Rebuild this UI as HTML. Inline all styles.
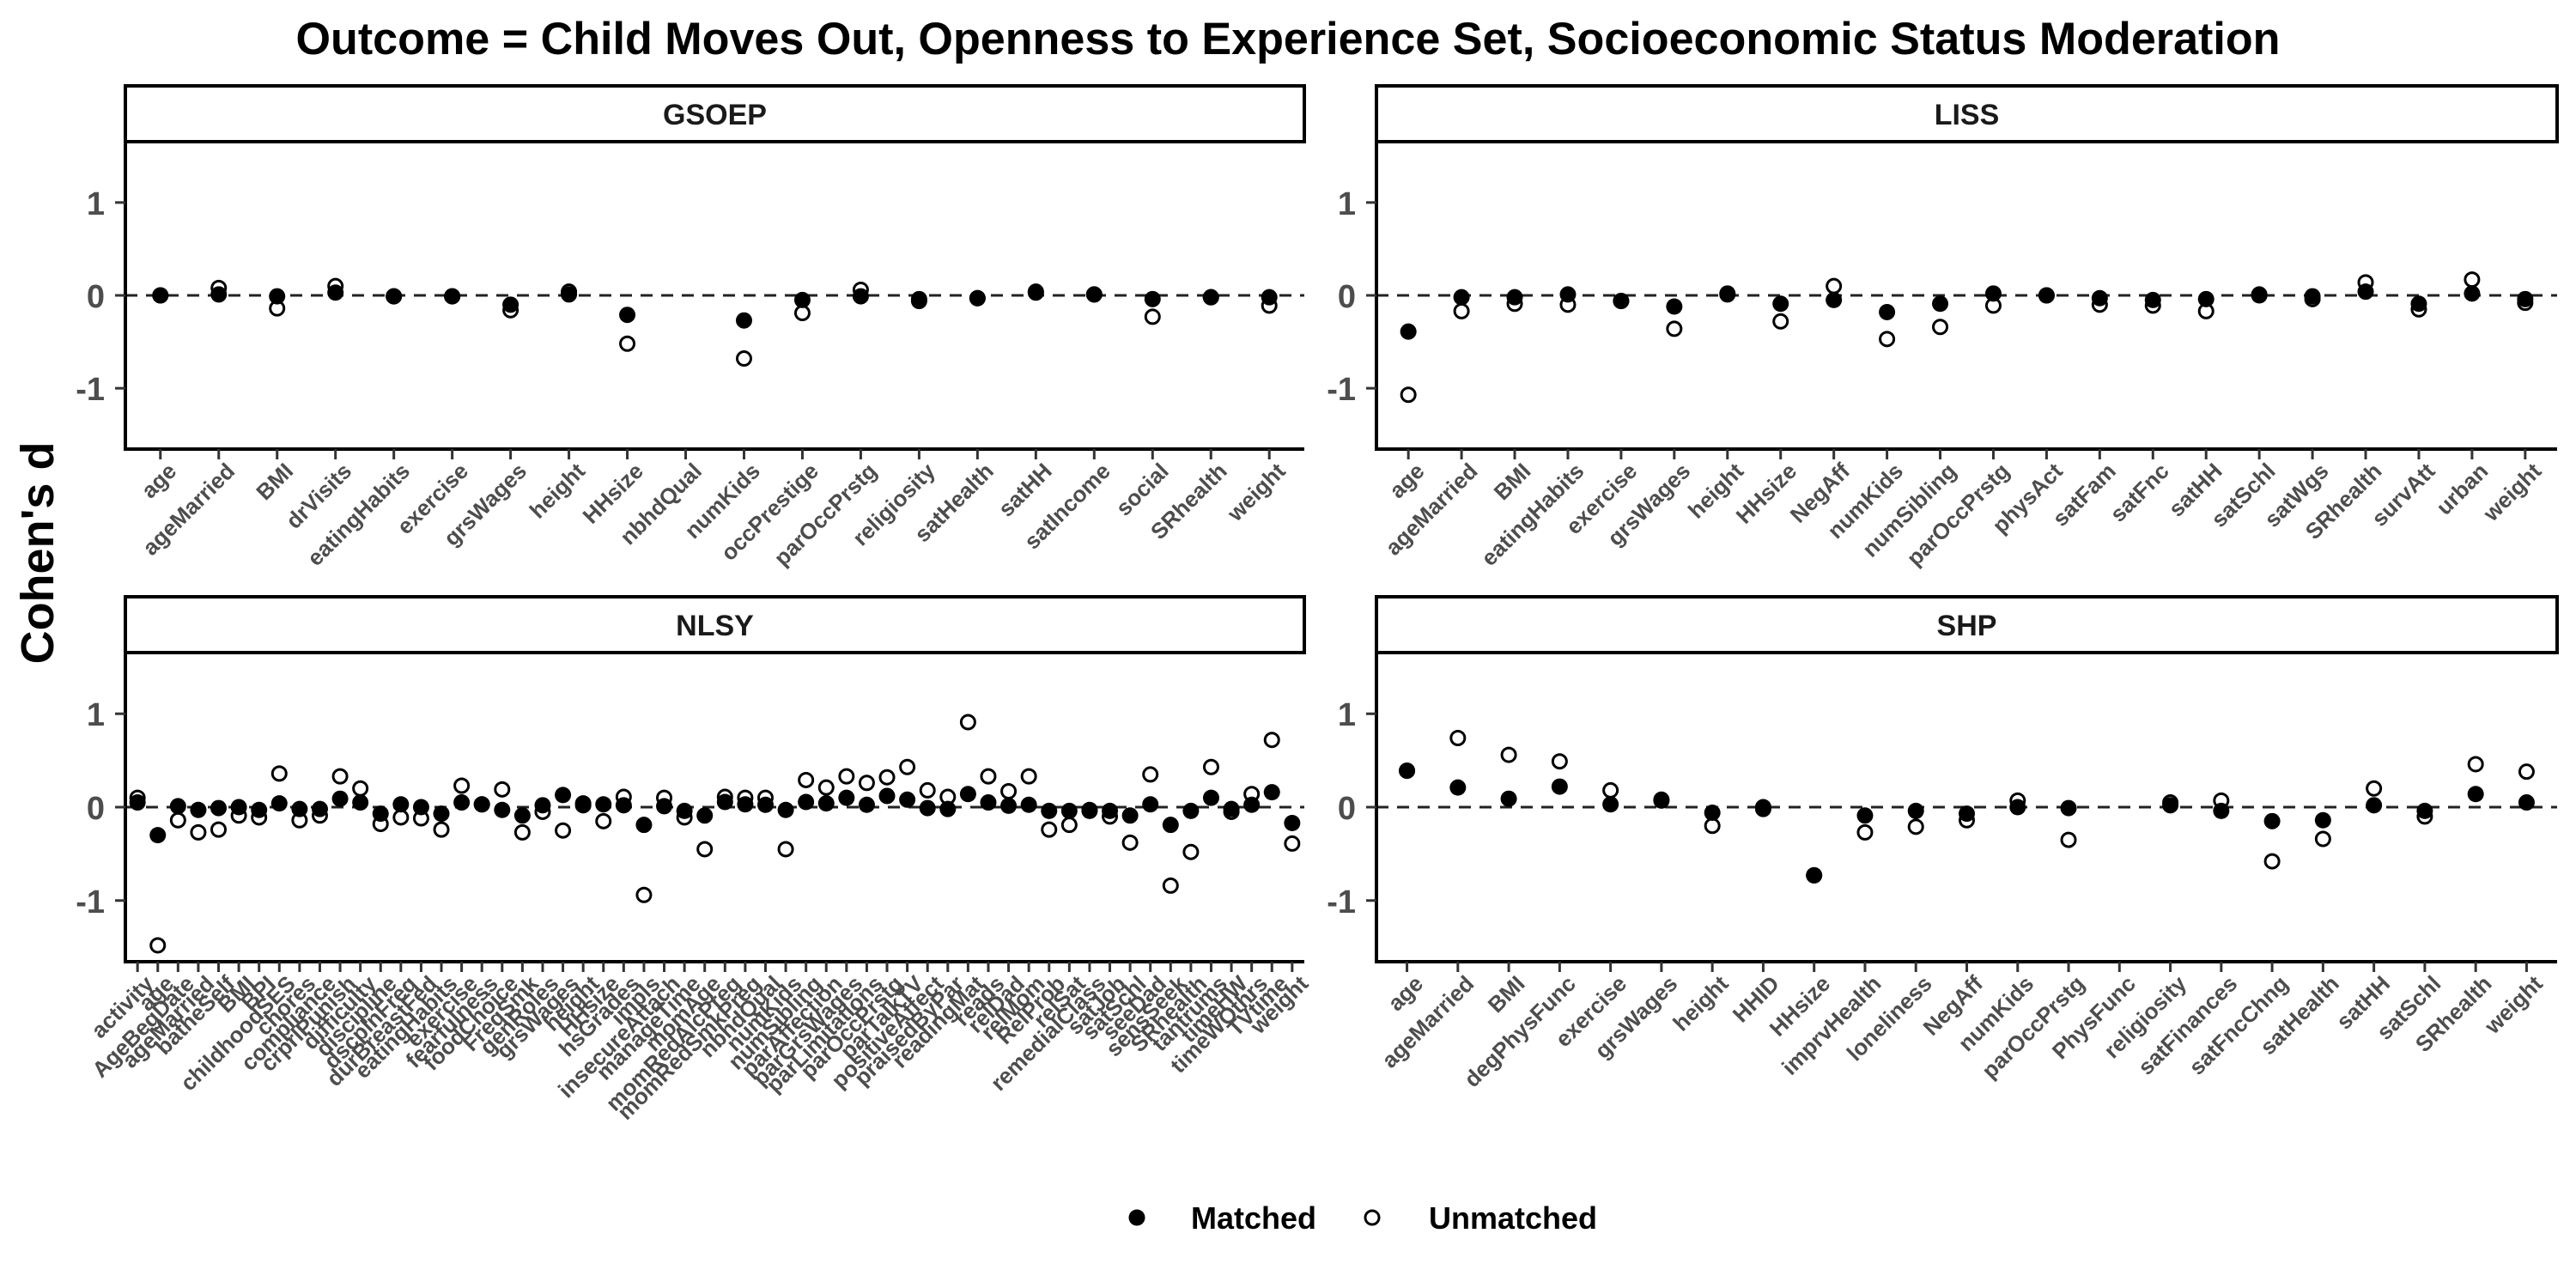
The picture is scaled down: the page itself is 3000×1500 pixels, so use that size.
<!DOCTYPE html>
<html><head><meta charset="utf-8"><style>
html,body{margin:0;padding:0;background:#fff;}
svg{display:block;font-family:"Liberation Sans",Arial,sans-serif;}
</style></head><body>
<svg id="chart" xmlns="http://www.w3.org/2000/svg" width="3000" height="1500" viewBox="0 0 3000 1500">
<rect x="0" y="0" width="3000" height="1500" fill="#fff"/>
<text x="1500" y="63" text-anchor="middle" font-size="53" font-weight="bold" fill="#000" textLength="2311" lengthAdjust="spacingAndGlyphs">Outcome = Child Moves Out, Openness to Experience Set, Socioeconomic Status Moderation</text>
<text transform="translate(62,644) rotate(-90)" text-anchor="middle" font-size="54" font-weight="bold" fill="#000">Cohen's d</text>
<g id="panels"></g>
<g>
<circle cx="1324" cy="1418" r="9.5" fill="#000"/>
<text x="1387" y="1431" font-size="36" font-weight="bold" fill="#000">Matched</text>
<circle cx="1598" cy="1418" r="8" fill="none" stroke="#000" stroke-width="3"/>
<text x="1664" y="1431" font-size="36" font-weight="bold" fill="#000">Unmatched</text>
</g>
</svg>
<script>
const gsoepCats = ["age","ageMarried","BMI","drVisits","eatingHabits","exercise","grsWages","height","HHsize","nbhdQual","numKids","occPrestige","parOccPrstg","religiosity","satHealth","satHH","satIncome","social","SRhealth","weight"];
const gsoepMatched = [0,0.01,-0.01,0.03,-0.01,-0.01,-0.1,0.01,-0.21,null,-0.27,-0.05,-0.01,-0.04,-0.03,0.04,0.01,-0.04,-0.02,-0.02];
const gsoepUnmatched = [0,0.08,-0.14,0.1,-0.01,-0.01,-0.16,0.04,-0.52,null,-0.68,-0.19,0.06,-0.06,-0.03,0.03,0.01,-0.23,-0.02,-0.11];

const lissCats = ["age","ageMarried","BMI","eatingHabits","exercise","grsWages","height","HHsize","NegAff","numKids","numSibling","parOccPrstg","physAct","satFam","satFnc","satHH","satSchl","satWgs","SRhealth","survAtt","urban","weight"];
const lissMatched = [-0.39,-0.02,-0.02,0.01,-0.06,-0.12,0.02,-0.09,-0.05,-0.18,-0.09,0.02,0,-0.03,-0.05,-0.04,0,-0.01,0.04,-0.09,0.02,-0.04];
const lissUnmatched = [-1.07,-0.17,-0.09,-0.1,-0.06,-0.36,0.01,-0.28,0.1,-0.47,-0.34,-0.11,0,-0.1,-0.11,-0.17,0.01,-0.04,0.14,-0.15,0.17,-0.08];

const nlsyCats = ["activity","age","AgeBegDate","ageMarried","batheSelf","BMI","BPI","childhoodSES","chores","compliance","crprlPunish","difficulty","discipline","dscplnFreq","durBreastFed","eatingHabits","exercise","fearfulness","foodChoice","FreqSmk","genRoles","grsWages","height","HHsize","hsGrades","impls","insecureAttach","manageTime","momAge","momRedAlcPreg","momRedSmkPreg","nbhdQual","numKids","numSibling","parAffection","parGrsWages","parLimitations","parOccPrstg","parTalkTV","positiveAffect","praisedByPar","readingMat","reads","relDad","relMom","RelProb","relSat","remedialClass","satJob","satSchl","seeDad","sensSeek","SRhealth","tantrums","timeHW","timeWOthrs","TVtime","weight"];
const nlsyMatched = [0.05,-0.3,0.01,-0.03,-0.01,0,-0.03,0.04,-0.02,-0.02,0.09,0.05,-0.07,0.03,0,-0.07,0.05,0.03,-0.03,-0.09,0.02,0.13,0.04,0.03,0.02,-0.19,0.01,-0.04,-0.09,0.055,0.03,0.025,-0.03,0.055,0.04,0.1,0.025,0.12,0.08,-0.01,-0.02,0.14,0.05,0.015,0.025,-0.04,-0.04,-0.04,-0.04,-0.09,0.03,-0.19,-0.04,0.1,-0.02,0.025,0.16,-0.17];
const nlsyUnmatched = [0.1,-1.48,-0.14,-0.27,-0.24,-0.09,-0.11,0.36,-0.14,-0.09,0.33,0.2,-0.18,-0.11,-0.12,-0.24,0.23,0.03,0.19,-0.27,-0.05,-0.25,0.02,-0.15,0.11,-0.94,0.1,-0.11,-0.45,0.11,0.1,0.1,-0.45,0.29,0.21,0.33,0.26,0.32,0.43,0.18,0.11,0.91,0.33,0.17,0.33,-0.24,-0.19,-0.03,-0.1,-0.38,0.35,-0.84,-0.48,0.43,-0.05,0.14,0.72,-0.39];

const shpCats = ["age","ageMarried","BMI","degPhysFunc","exercise","grsWages","height","HHID","HHsize","imprvHealth","loneliness","NegAff","numKids","parOccPrstg","PhysFunc","religiosity","satFinances","satFncChng","satHealth","satHH","satSchl","SRhealth","weight"];
const shpMatched = [0.39,0.21,0.09,0.22,0.03,0.07,-0.06,-0.02,-0.73,-0.09,-0.04,-0.07,0,-0.01,null,0.02,-0.04,-0.15,-0.14,0.02,-0.04,0.14,0.05];
const shpUnmatched = [0.39,0.74,0.56,0.49,0.18,0.08,-0.2,0,-0.73,-0.27,-0.21,-0.14,0.07,-0.35,null,0.05,0.07,-0.58,-0.34,0.2,-0.1,0.46,0.38];

const yTicks = [-1, 0, 1];
const yTickLabels = ["-1", "0", "1"];
const yLimit = 1.655;

const NS = "http://www.w3.org/2000/svg";
const root = document.getElementById("panels");
function mk(tag, attrs, parent) {
  const e = document.createElementNS(NS, tag);
  for (const k in attrs) e.setAttribute(k, attrs[k]);
  (parent || root).appendChild(e);
  return e;
}

const panels = [
  {key:"gsoep", title:"GSOEP", cats:gsoepCats, m:gsoepMatched, u:gsoepUnmatched, left:146, right:1519, stripTop:100, top:165, bottom:523},
  {key:"liss", title:"LISS", cats:lissCats, m:lissMatched, u:lissUnmatched, left:1603, right:2978, stripTop:100, top:165, bottom:523},
  {key:"nlsy", title:"NLSY", cats:nlsyCats, m:nlsyMatched, u:nlsyUnmatched, left:146, right:1519, stripTop:695, top:760, bottom:1120},
  {key:"shp", title:"SHP", cats:shpCats, m:shpMatched, u:shpUnmatched, left:1603, right:2978, stripTop:695, top:760, bottom:1120}
];

panels.forEach(p => {
  const g = mk("g", {});
  
  
  const n = p.cats.length;
  const step = (p.right - p.left) / (n + 0.2);
  const xScale = i => p.left + (i + 0.6) * step;
  const yScale = v => p.top + (yLimit - v) / (2 * yLimit) * (p.bottom - p.top);

  const strip = mk("rect", {x:p.left, y:p.stripTop, width:p.right-p.left, height:p.top-p.stripTop, fill:"#fff", stroke:"#000", "stroke-width":4}, g);
  
  
  const st = mk("text", {x:(p.left+p.right)/2, y:p.stripTop+45, "text-anchor":"middle", "font-size":34, "font-weight":"bold", fill:"#1a1a1a"}, g);
  st.textContent = p.title;
  
  

  const zl = mk("line", {x1:p.left, x2:p.right, y1:yScale(0), y2:yScale(0), stroke:"#222", "stroke-width":3, "stroke-dasharray":"14 10"}, g);
  
  

  const ya = mk("line", {x1:p.left, x2:p.left, y1:p.top, y2:p.bottom, stroke:"#000", "stroke-width":4}, g);
  
  
  const xa = mk("line", {x1:p.left-2, x2:p.right, y1:p.bottom, y2:p.bottom, stroke:"#000", "stroke-width":4}, g);
  
  

  yTicks.forEach((t, k) => {
    const y = yScale(t);
    const tl = mk("line", {x1:p.left-12, x2:p.left, y1:y, y2:y, stroke:"#333", "stroke-width":3}, g);
    
    
    const tx = mk("text", {x:p.left-24, y:y+14, "text-anchor":"end", "font-size":38, "font-weight":"bold", fill:"#4d4d4d"}, g);
    tx.textContent = yTickLabels[k];
    
    
  });

  p.cats.forEach((c, i) => {
    const x = xScale(i);
    const tk = mk("line", {x1:x, x2:x, y1:p.bottom, y2:p.bottom+12, stroke:"#333", "stroke-width":3}, g);
    
    
    const lb = mk("text", {transform:"translate(" + (x+7) + "," + (p.bottom+14) + ") rotate(-45)", "text-anchor":"end", dy:"0.72em", "font-size":26, "font-weight":"bold", fill:"#4d4d4d"}, g);
    lb.textContent = c;
    
    
  });

  p.cats.forEach((c, i) => {
    const v = p.u[i];
    if (v === null || v === undefined) return;
    const pt = mk("circle", {cx:xScale(i), cy:yScale(v), r:8, fill:"none", stroke:"#000", "stroke-width":3}, g);
    
    
  });
  p.cats.forEach((c, i) => {
    const v = p.m[i];
    if (v === null || v === undefined) return;
    const pt = mk("circle", {cx:xScale(i), cy:yScale(v), r:9.5, fill:"#000"}, g);
    
    
  });
});
</script>
</body></html>
